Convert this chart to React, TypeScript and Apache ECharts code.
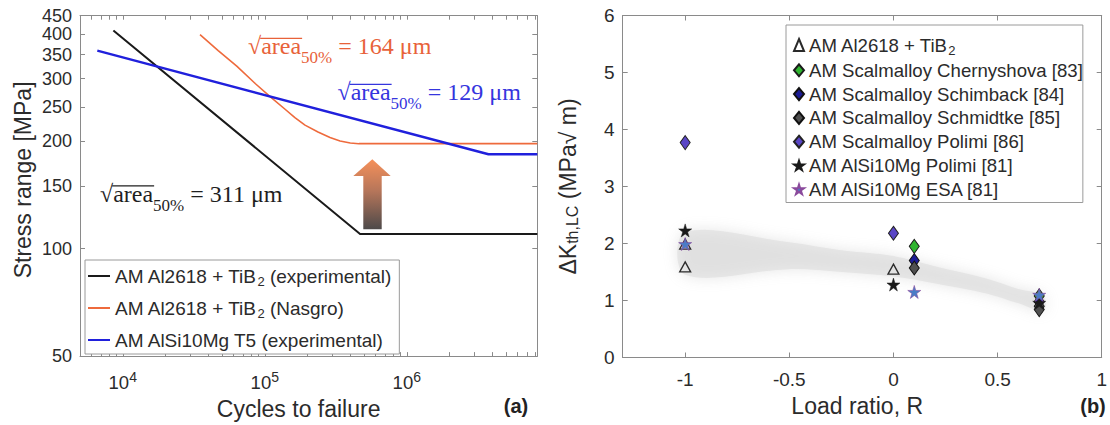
import React, { useEffect, useRef } from 'react';
import * as echarts from 'echarts';

// ---------- Panel (a): S-N curves ----------
const cyclesBlack = [8590, 469000, 8300000];
const stressBlack = [409, 110, 110];
const cyclesNasgro = [35000, 47000, 63500, 86000, 109000, 139000, 163000, 192000, 237000, 288000, 339000, 400000, 460000, 8300000];
const stressNasgro = [398, 359, 325, 290, 267, 246, 233, 222, 212.5, 205, 200.5, 197.8, 197, 197];
const cyclesBlue = [6620, 3760000, 8300000];
const stressBlue = [359, 184, 184];
const stressTicks = [50, 100, 150, 200, 250, 300, 350, 400, 449.99];
const stressLabels = [50, 100, 150, 200, 250, 300, 350, 400];
const stressTopLabel = [449.99];
const cycleTicks = [1e4, 1e5, 1e6];
const cycleMinorTicks = [
  6e3, 7e3, 8e3, 9e3, 1e4, 2e4, 3e4, 4e4, 5e4, 6e4, 7e4, 8e4, 9e4, 1e5, 2e5, 3e5, 4e5, 5e5, 6e5, 7e5, 8e5, 9e5,
  1e6, 2e6, 3e6, 4e6, 5e6, 6e6, 7e6, 8e6,
];
const namesA = ['AM Al2618 + TiB2 (experimental)', 'AM Al2618 + TiB2 (Nasgro)', 'AM AlSi10Mg T5 (experimental)'];
const annoValues = [164, 129, 311];

// ---------- Panel (b): threshold vs load ratio ----------
const ratioAl2618 = [-1, -1, 0];
const dkAl2618 = [1.99, 1.59, 1.55];
const ratioChern = [0.1, 0.7];
const dkChern = [1.95, 1.08];
const ratioSchimback = [0.1, 0.7];
const dkSchimback = [1.7, 0.98];
const ratioSchmidtke = [0.1, 0.7, 0.7];
const dkSchmidtke = [1.57, 0.9, 0.84];
const ratioPolimiScal = [-1, 0];
const dkPolimiScal = [3.77, 2.18];
const ratioAlSiPolimi = [-1, 0, 0.7];
const dkAlSiPolimi = [2.23, 1.28, 0.96];
const ratioEsa = [-1, 0.1, 0.7];
const dkEsa = [1.99, 1.15, 1.1];
const bandR = [-1.0, -0.5, -0.25, 0, 0.2, 0.45, 0.6, 0.72];
const bandUpper = [2.2, 2.02, 1.88, 1.78, 1.6, 1.38, 1.2, 1.08];
const bandLower = [1.45, 1.55, 1.5, 1.42, 1.3, 1.12, 0.95, 0.82];
const ratioTicks = [-1, -0.5, 0, 0.5, 1];
const dkTicks = [0, 1, 2, 3, 4, 5, 6];
const namesB = [
  'AM Al2618 + TiB2',
  'AM Scalmalloy Chernyshova [83]',
  'AM Scalmalloy Schimback [84]',
  'AM Scalmalloy Schmidtke [85]',
  'AM Scalmalloy Polimi [86]',
  'AM AlSi10Mg Polimi [81]',
  'AM AlSi10Mg ESA [81]',
];

const SANS = '"Liberation Sans", Arial, sans-serif';
const SERIF = '"Liberation Serif", "Times New Roman", serif';
const TXT = '#2b2b2b';
const AXC = '#8a8a8a';
const STAR = 'path://M50,0 L61,35 L98,35 L68,57 L79,91 L50,70 L21,91 L32,57 L2,35 L39,35 Z';

const zip = (xs: number[], ys: number[]) => xs.map((x, i) => [x, ys[i]]);

function measure(text: string, font: string): number {
  const c = document.createElement('canvas');
  const ctx = c.getContext('2d');
  if (!ctx) return text.length * 10;
  ctx.font = font;
  return ctx.measureText(text).width;
}

function anno(x: number, cy: number, value: number, color: string): any[] {
  const fs = 24;
  const sfs = 17;
  const wSqrt = measure('√', `${fs}px ${SERIF}`);
  const wArea = measure('area', `${fs}px ${SERIF}`);
  const wSub = measure('50%', `${sfs}px ${SERIF}`);
  const base = { fill: color, fontFamily: SERIF, align: 'left', verticalAlign: 'middle' };
  return [
    { type: 'text', x, y: cy - 3, style: { ...base, text: '√', fontSize: fs } },
    { type: 'text', x: x + wSqrt, y: cy - 3, style: { ...base, text: 'area', fontSize: fs } },
    {
      type: 'line',
      shape: { x1: x + wSqrt - 1, y1: cy - 10.6, x2: x + wSqrt + wArea + 1, y2: cy - 10.6 },
      style: { stroke: color, lineWidth: 1.2 },
    },
    { type: 'text', x: x + wSqrt + wArea, y: cy + 8.5, style: { ...base, text: '50%', fontSize: sfs } },
    { type: 'text', x: x + wSqrt + wArea + wSub, y: cy - 3, style: { ...base, text: ` = ${value} μm`, fontSize: fs } },
  ];
}

function frameAxis(extra: any) {
  return {
    axisLine: { show: true, onZero: false, lineStyle: { color: AXC, width: 1 } },
    axisLabel: { show: false },
    splitLine: { show: false },
    ...extra,
  };
}

function buildOption(): any {
  const colBlack = '#1a1a1a';
  const colOrange = '#ee6a3c';
  const colBlue = '#2020dc';

  const lineSeries = (name: string, xs: number[], ys: number[], color: string, width: number) => ({
    type: 'line',
    name,
    xAxisIndex: 0,
    yAxisIndex: 0,
    data: zip(xs, ys),
    symbol: 'none',
    showSymbol: false,
    lineStyle: { color, width, join: 'round' },
    itemStyle: { color },
    z: 3,
  });

  const scatter = (name: string, xs: number[], ys: number[], symbol: string, size: any, color: string, border: string, bw = 1) => ({
    type: 'scatter',
    name,
    xAxisIndex: 2,
    yAxisIndex: 2,
    data: zip(xs, ys),
    symbol,
    symbolSize: size,
    itemStyle: { color, borderColor: border, borderWidth: bw, opacity: 1 },
    z: 4,
  });

  const arrowFill = new echarts.graphic.LinearGradient(0, 0, 0, 1, [
    { offset: 0, color: '#f5874c' },
    { offset: 0.45, color: '#b06a4c' },
    { offset: 1, color: '#3e3a3a' },
  ]);

  const stressLabelStyle = {
    showMinLabel: true,
    showMaxLabel: true,
    hideOverlap: false,
    margin: 8,
    fontSize: 18,
    lineHeight: 14,
    color: TXT,
    fontFamily: SANS,
    formatter: (v: number) => String(Math.round(v)),
  };

  return {
    animation: false,
    backgroundColor: '#ffffff',
    textStyle: { fontFamily: SANS, color: TXT },
    grid: [
      { left: 80, top: 15.7, width: 457.3, height: 343.3 },
      { left: 622.7, top: 15.5, width: 485, height: 342 },
    ],
    xAxis: [
      {
        gridIndex: 0,
        type: 'log',
        logBase: 10,
        min: 5000,
        max: 8300000,
        position: 'bottom',
        axisLine: { show: true, onZero: false, lineStyle: { color: AXC, width: 1 } },
        axisTick: { show: true, inside: true, length: 4, customValues: cycleMinorTicks, lineStyle: { color: AXC } },
        axisLabel: {
          customValues: cycleTicks,
          margin: 14,
          formatter: (v: number) => `{b|10}{e|${Math.round(Math.log10(v))}}`,
          rich: {
            b: { fontSize: 18.5, fontFamily: SANS, color: TXT },
            e: { fontSize: 14, fontFamily: SANS, color: TXT, padding: [0, 0, 11, 0] },
          },
        },
        splitLine: { show: false },
        name: 'Cycles to failure',
        nameLocation: 'middle',
        nameGap: 37,
        nameTextStyle: { fontSize: 23, color: TXT, fontFamily: SANS, padding: [0, 20, 0, 0] },
      },
      frameAxis({
        gridIndex: 0,
        type: 'log',
        logBase: 10,
        min: 5000,
        max: 8300000,
        position: 'top',
        axisTick: { show: true, inside: true, length: 4, customValues: cycleMinorTicks, lineStyle: { color: AXC } },
      }),
      {
        gridIndex: 1,
        type: 'value',
        min: -1.3,
        max: 1,
        position: 'bottom',
        axisLine: { show: true, onZero: false, lineStyle: { color: AXC, width: 1 } },
        axisTick: { show: true, inside: true, length: 5, customValues: ratioTicks, lineStyle: { color: AXC } },
        axisLabel: { customValues: ratioTicks, margin: 12, fontSize: 19, color: TXT, fontFamily: SANS, showMaxLabel: true },
        splitLine: { show: false },
        name: 'Load ratio, R',
        nameLocation: 'middle',
        nameGap: 37,
        nameTextStyle: { fontSize: 23, color: TXT, fontFamily: SANS, padding: [0, 10, 0, 0] },
      },
      frameAxis({
        gridIndex: 1,
        type: 'value',
        min: -1.3,
        max: 1,
        position: 'top',
        axisTick: { show: true, inside: true, length: 5, customValues: ratioTicks, lineStyle: { color: AXC } },
      }),
    ],
    yAxis: [
      {
        gridIndex: 0,
        type: 'log',
        logBase: 10,
        min: 50,
        max: 450,
        position: 'left',
        axisLine: { show: true, onZero: false, lineStyle: { color: AXC, width: 1 } },
        axisTick: { show: true, inside: true, length: 5, customValues: stressTicks, lineStyle: { color: AXC } },
        axisLabel: { ...stressLabelStyle, customValues: stressLabels },
        splitLine: { show: false },
        name: 'Stress range [MPa]',
        nameLocation: 'middle',
        nameGap: 46,
        nameTextStyle: { fontSize: 23, color: TXT, fontFamily: SANS, padding: [0, 0, 0, 12] },
      },
      frameAxis({
        gridIndex: 0,
        type: 'log',
        logBase: 10,
        min: 50,
        max: 450,
        position: 'right',
        axisTick: { show: true, inside: true, length: 5, customValues: stressTicks, lineStyle: { color: AXC } },
      }),
      {
        gridIndex: 1,
        type: 'value',
        min: 0,
        max: 6,
        interval: 1,
        position: 'left',
        axisLine: { show: true, onZero: false, lineStyle: { color: AXC, width: 1 } },
        axisTick: { show: true, inside: true, length: 5, customValues: dkTicks, lineStyle: { color: AXC } },
        axisLabel: { customValues: dkTicks, margin: 8, fontSize: 19, color: TXT, fontFamily: SANS, showMaxLabel: true },
        splitLine: { show: false },
        name: 'ΔK{s|th,LC} (MPa√ m)',
        nameLocation: 'middle',
        nameGap: 42,
        nameTextStyle: {
          fontSize: 23,
          color: TXT,
          fontFamily: SANS,
          rich: { s: { fontSize: 16, fontFamily: SANS, color: TXT, padding: [10, 0, 0, 0] } },
        },
      },
      frameAxis({
        gridIndex: 1,
        type: 'value',
        min: 0,
        max: 6,
        interval: 1,
        position: 'right',
        axisTick: { show: true, inside: true, length: 5, customValues: dkTicks, lineStyle: { color: AXC } },
      }),
      {
        gridIndex: 0,
        type: 'log',
        logBase: 10,
        min: 50,
        max: 450,
        position: 'left',
        axisLine: { show: false },
        axisTick: { show: false },
        axisLabel: { ...stressLabelStyle, customValues: stressTopLabel },
        splitLine: { show: false },
      },
    ],
    legend: [
      {
        data: namesA.map((n) => ({ name: n, icon: 'rect' })),
        orient: 'vertical',
        left: 85,
        top: 260,
        padding: [4, 8, 2, 3],
        itemGap: 8,
        itemWidth: 22,
        itemHeight: 2,
        selectedMode: false,
        backgroundColor: '#ffffff',
        borderColor: '#9a9a9a',
        borderWidth: 1,
        formatter: (n: string) => n.replace('TiB2', 'TiB{sub|2}'),
        textStyle: {
          fontSize: 19,
          lineHeight: 24,
          color: TXT,
          fontFamily: SANS,
          rich: { sub: { fontSize: 13, fontFamily: SANS, color: TXT, padding: [11, 0, 0, 0] } },
        },
      },
      {
        data: namesB,
        orient: 'vertical',
        left: 786,
        top: 25,
        padding: [10, 0, 3.2, 7],
        itemGap: 3.8,
        itemWidth: 10,
        itemHeight: 12,
        selectedMode: false,
        backgroundColor: '#ffffff',
        borderColor: '#9a9a9a',
        borderWidth: 1,
        formatter: (n: string) => n.replace('TiB2', 'TiB{sub|2}'),
        textStyle: {
          fontSize: 18.6,
          lineHeight: 20,
          color: TXT,
          fontFamily: SANS,
          rich: { sub: { fontSize: 13, fontFamily: SANS, color: TXT, padding: [10, 0, 0, 0] } },
        },
      },
    ],
    series: [
      lineSeries(namesA[0], cyclesBlack, stressBlack, colBlack, 2),
      lineSeries(namesA[1], cyclesNasgro, stressNasgro, colOrange, 1.6),
      lineSeries(namesA[2], cyclesBlue, stressBlue, colBlue, 2.4),
      {
        type: 'custom',
        name: 'band',
        xAxisIndex: 2,
        yAxisIndex: 2,
        data: [[0, 0]],
        clip: false,
        silent: true,
        z: 1,
        renderItem: (_p: any, api: any) => {
          const top = bandR.map((r, i) => api.coord([r, bandUpper[i]]));
          const bot = bandR.map((r, i) => api.coord([r, bandLower[i]])).reverse();
          return {
            type: 'polygon',
            shape: { points: top.concat(bot), smooth: 0.35 },
            style: {
              fill: 'rgba(218,218,218,0.55)',
              shadowBlur: 14,
              shadowColor: 'rgba(205,205,205,0.9)',
            },
          };
        },
      },
      scatter(namesB[0], ratioAl2618, dkAl2618, 'triangle', [11, 10], 'rgba(255,255,255,0)', '#2a2a2a', 1.3),
      scatter(namesB[1], ratioChern, dkChern, 'diamond', [10, 14], '#2fb52f', '#1a1a1a'),
      scatter(namesB[2], ratioSchimback, dkSchimback, 'diamond', [10, 14], '#1c1c96', '#111111'),
      scatter(namesB[3], ratioSchmidtke, dkSchmidtke, 'diamond', [10, 14], '#4f4f4f', '#111111'),
      scatter(namesB[4], ratioPolimiScal, dkPolimiScal, 'diamond', [10, 14], '#5a46c6', '#222222'),
      scatter(namesB[5], ratioAlSiPolimi, dkAlSiPolimi, STAR, 13, '#1a1a1a', '#1a1a1a', 0.5),
      scatter(namesB[6], ratioEsa, dkEsa, STAR, 13, '#4a7cc6', '#8a4a9c', 0.6),
    ],
    graphic: [
      ...anno(248, 49, annoValues[0], '#e8623a'),
      ...anno(337.5, 95, annoValues[1], '#3535de'),
      ...anno(100, 196.5, annoValues[2], '#1f1f1f'),
      {
        type: 'polygon',
        shape: {
          points: [
            [372.3, 159.3],
            [390.7, 176],
            [381.7, 176],
            [381.7, 229.3],
            [363.3, 229.3],
            [363.3, 176],
            [353.3, 176],
          ],
        },
        style: { fill: arrowFill, opacity: 0.92 },
        z: 10,
      },
      {
        type: 'text',
        x: 516,
        y: 406,
        style: { text: '(a)', fontSize: 20, fontWeight: 'bold', fontFamily: SANS, fill: '#222', align: 'center', verticalAlign: 'middle' },
      },
      {
        type: 'text',
        x: 1093,
        y: 406,
        style: { text: '(b)', fontSize: 20, fontWeight: 'bold', fontFamily: SANS, fill: '#222', align: 'center', verticalAlign: 'middle' },
      },
    ],
  };
}

export default function App() {
  const ref = useRef<HTMLDivElement>(null);
  useEffect(() => {
    if (!ref.current) return;
    const chart = echarts.init(ref.current, null, { renderer: 'svg' });
    chart.setOption(buildOption());
    return () => {
      chart.dispose();
    };
  }, []);
  return (
    <div
      ref={ref}
      style={{ position: 'fixed', left: 0, top: 0, width: 1110, height: 425, background: '#ffffff' }}
    />
  );
}
